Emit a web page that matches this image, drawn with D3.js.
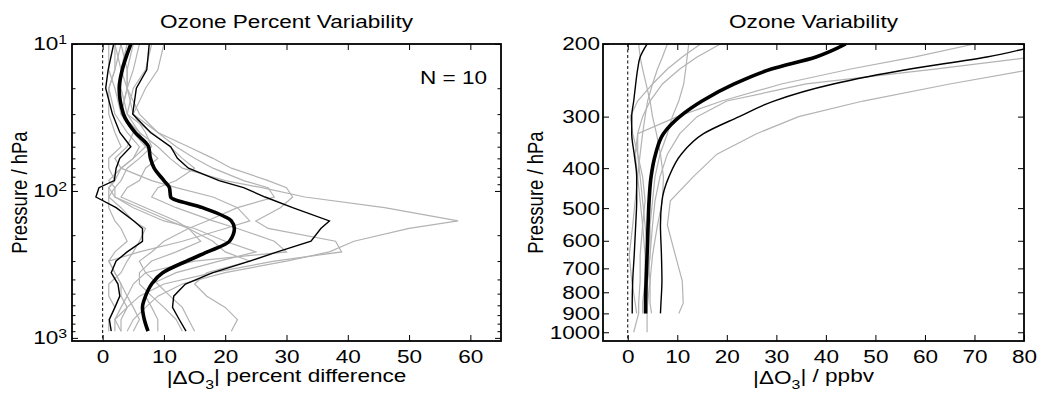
<!DOCTYPE html>
<html>
<head>
<meta charset="utf-8">
<script src="https://cdn.jsdelivr.net/npm/d3@7"></script>
<style>
  body { margin: 0; background: #fff; }
  svg text { font-family: "Liberation Sans", Arial, sans-serif; fill: #000; }
</style>
</head>
<body>
<svg id="chart" width="1037" height="398"></svg>
<script>
// ---- left panel: percent variability (pressure levels in hPa) ----
const levelsPct = [10, 15, 20, 30, 40, 50, 60, 70, 85, 95, 110, 130, 160, 180, 220, 260, 300, 360, 430, 520, 620, 750, 900];
const meanPct = [4.6, 3.2, 2.7, 3.4, 5.3, 7.5, 7.8, 8.4, 10.0, 10.9, 11.1, 16.3, 21.0, 21.5, 20.7, 17.1, 13.7, 9.8, 8.0, 7.0, 6.5, 6.8, 7.4];
const lowPct = [1.8, 0.9, 0.5, 1.6, 2.8, 4.6, 2.8, 2.2, 1.9, -0.6, -1.1, 2.2, 5.1, 6.5, 6.5, 4.0, 2.2, 1.4, 2.5, 2.8, 2.0, 1.1, 1.4];
const highPct = [7.6, 7.2, 5.5, 4.9, 7.8, 11.1, 12.2, 14.0, 19.0, 23.0, 26.5, 31.0, 37.0, 35.6, 34.0, 28.5, 24.0, 18.0, 13.5, 11.6, 11.4, 12.5, 13.6];
const profilesPct = [
  [6, 5, 4, 3, 6, 9, 11, 13, 20, 26, 33, 46, 58, 50, 41, 37, 30, 20, 13, 9, 7, 5, 4],
  [2, 3, 4, 6, 9, 14, 18, 21, 27, 30, 31, 29, 25, 27, 38, 39, 28, 18, 10, 6, 4, 3, 3],
  [3, 2, 1, 2, 4, 6, 5, 3, 2, 1, 2, 6, 11, 14, 18, 20, 24, 17, 15, 17, 20, 22, 21],
  [1, 1, 2, 3, 5, 4, 2, 3, 8, 12, 18, 22, 24, 20, 13, 6, 1, 2, 3, 4, 3, 2, 3],
  [4, 3, 3, 4, 8, 11, 13, 15, 12, 9, 8, 12, 18, 22, 28, 30, 15, 7, 5, 4, 5, 6, 5],
  [2, 2, 1, 1, 2, 3, 1, 1, 2, 1, 1, 3, 5, 7, 6, 5, 4, 3, 1, 1, 2, 1, 1],
  [8, 7, 5, 4, 6, 7, 9, 7, 6, 4, 3, 7, 12, 14, 16, 12, 8, 6, 6, 8, 10, 12, 13],
  [5, 4, 4, 5, 9, 12, 15, 18, 23, 27, 28, 22, 17, 14, 10, 8, 6, 7, 9, 11, 13, 14, 15],
  [3, 4, 4, 3, 5, 7, 5, 3, 1, 2, 1, 1, 2, 3, 4, 2, 1, 2, 3, 3, 4, 2, 2],
  [10, 9, 7, 5, 7, 8, 6, 4, 3, 2, 2, 5, 10, 15, 20, 25, 19, 12, 8, 7, 8, 9, 9]
];
const xTicksPct = [0, 10, 20, 30, 40, 50, 60];
const yTicksPct = [10, 100, 1000];

// ---- right panel: absolute variability in ppbv ----
const levelsAbs = [200, 215, 230, 250, 275, 300, 330, 370, 420, 480, 550, 650, 750, 850, 900, 1000];
const meanAbs = [44, 38, 29, 21.5, 15, 10.5, 7.2, 5.6, 4.7, 4.3, 4.1, 3.9, 3.7, 3.6, 3.6, null];
const lowAbs = [3.9, 2.5, 2.0, 1.6, 1.2, 0.8, 0.8, 1.3, 1.8, 1.8, 1.6, 1.3, 1.0, 0.9, 0.9, null];
const highAbs = [84, 72.5, 57, 41.5, 29.5, 22.5, 15.3, 10.8, 8.3, 6.9, 6.6, 6.8, 6.9, 6.7, 6.6, null];
const profilesAbs = [
  [70, 58, 45, 31, 19, 10, 2, 1.5, 2, 2.5, 3, 3.5, 3.5, 3, 3, null],
  [95, 82, 62, 36, 20, 14, 10.5, 8, 6.5, 5.5, 5, 4.5, 4, 3.5, 3.5, null],
  [120, 100, 82, 65, 47.5, 34.5, 26, 18, 13.2, 8.6, 8, 9.6, 11, 11.2, 10.3, null],
  [18.7, 14, 10.5, 7, 4.5, 3, 2, 2, 2.5, 3, 3.5, 4, 4.5, 4.5, 4.8, null],
  [14.7, 11, 8, 5, 2, 0.5, 1, 2, 3, 3.5, 3, 2.5, 2.5, 2.2, 2.2, 1.2],
  [12.3, 12, 11.7, 11.3, 10.3, 9, 8, 6.5, 5.5, 5, 4.5, 4.5, 4, 4, 3.9, 3.9],
  [2.2, 2.5, 3, 3.7, 4.5, 5, 5.8, 6.6, 7.2, 7, 6, 5, 4.5, 4, 3.8, null],
  [8, 7, 6, 5, 4, 3.5, 3, 2.5, 2, 1.5, 1, 0.3, 0.8, 1.5, 1.8, null]
];
const xTicksAbs = [0, 10, 20, 30, 40, 50, 60, 70, 80];
const yTicksAbs = [200, 300, 400, 500, 600, 700, 800, 900, 1000];

// the reference lettering is a bit wider than Liberation Sans, so stretch it
const FONT = 18.5, STRETCH = 1.22;

const svg = d3.select("#chart");

function label(parent, x, y, txt, anchor, rotate) {
  return parent.append("text")
    .attr("transform", "translate(" + x + "," + y + ") scale(" + STRETCH + ",1)" + (rotate ? " rotate(-90)" : ""))
    .attr("text-anchor", anchor).attr("font-size", FONT)
    .text(txt);
}

function drawPanel(cfg) {
  const g = svg.append("g");
  const x = d3.scaleLinear().domain(cfg.xDomain).range([cfg.left, cfg.right]);
  const y = d3.scaleLog().domain(cfg.yDomain).range([cfg.top, cfg.bottom]);

  const clipId = "clip-" + cfg.id;
  svg.append("clipPath").attr("id", clipId)
    .append("rect")
    .attr("x", cfg.left).attr("y", cfg.top)
    .attr("width", cfg.right - cfg.left).attr("height", cfg.bottom - cfg.top);

  const plot = g.append("g").attr("clip-path", "url(#" + clipId + ")");

  // zero reference line
  plot.append("line")
    .attr("x1", x(0)).attr("x2", x(0))
    .attr("y1", cfg.top).attr("y2", cfg.bottom)
    .attr("stroke", "#000").attr("stroke-width", 1)
    .attr("stroke-dasharray", "3,2.5");

  const line = d3.line()
    .defined(d => d.v != null)
    .x(d => x(d.v))
    .y(d => y(d.p));
  const smooth = d3.line()
    .defined(d => d.v != null)
    .curve(d3.curveMonotoneY)
    .x(d => x(d.v))
    .y(d => y(d.p));
  const toPts = vals => vals.map((v, i) => ({ p: cfg.levels[i], v: v }));

  cfg.profiles.forEach(vals => {
    plot.append("path").datum(toPts(vals))
      .attr("fill", "none").attr("stroke", "#b3b3b3").attr("stroke-width", 1.2)
      .attr("d", line);
  });
  [cfg.low, cfg.high].forEach(vals => {
    plot.append("path").datum(toPts(vals))
      .attr("fill", "none").attr("stroke", "#000").attr("stroke-width", 1.4)
      .attr("d", cfg.smoothBounds ? smooth : line);
  });
  plot.append("path").datum(toPts(cfg.mean))
    .attr("fill", "none").attr("stroke", "#000").attr("stroke-width", 3.6)
    .attr("stroke-linejoin", "round")
    .attr("d", smooth);

  // axes with inward ticks on all four sides
  g.append("g")
    .attr("transform", "translate(0," + cfg.bottom + ")")
    .call(d3.axisBottom(x).tickValues(cfg.xTicks).tickSizeInner(-6).tickSizeOuter(0).tickPadding(9));
  g.append("g")
    .attr("transform", "translate(0," + cfg.top + ")")
    .call(d3.axisTop(x).tickValues(cfg.xTicks).tickSizeInner(-6).tickSizeOuter(0).tickFormat(""));

  const leftAxis = g.append("g")
    .attr("transform", "translate(" + cfg.left + ",0)")
    .call(d3.axisLeft(y).tickValues(cfg.yTicks).tickFormat(d3.format("d"))
      .tickSizeInner(-6).tickSizeOuter(0).tickPadding(cfg.yPad));
  g.append("g")
    .attr("transform", "translate(" + cfg.right + ",0)")
    .call(d3.axisRight(y).tickValues(cfg.yTicks).tickSizeInner(-6).tickSizeOuter(0).tickFormat(""));

  if (cfg.minorTicks) {
    g.append("g").attr("transform", "translate(" + cfg.left + ",0)")
      .call(d3.axisLeft(y).tickValues(cfg.minorTicks).tickSizeInner(-3.5).tickSizeOuter(0).tickFormat(""));
    g.append("g").attr("transform", "translate(" + cfg.right + ",0)")
      .call(d3.axisRight(y).tickValues(cfg.minorTicks).tickSizeInner(-3.5).tickSizeOuter(0).tickFormat(""));
  }

  g.selectAll(".domain").remove();
  g.selectAll(".tick line").attr("stroke", "#000").attr("stroke-width", 1);
  g.selectAll(".tick text")
    .attr("font-size", FONT)
    .attr("font-family", "Liberation Sans, Arial, sans-serif")
    .attr("transform", "scale(" + STRETCH + ",1)");

  if (cfg.powerLabels) {
    leftAxis.selectAll(".tick text").each(function (d) {
      const t = d3.select(this).text(null);
      t.append("tspan").text("10");
      t.append("tspan").attr("dy", "-0.5em").attr("font-size", 13).text(Math.round(Math.log10(d)));
    });
  }

  // frame
  g.append("rect")
    .attr("x", cfg.left).attr("y", cfg.top)
    .attr("width", cfg.right - cfg.left).attr("height", cfg.bottom - cfg.top)
    .attr("fill", "none").attr("stroke", "#000").attr("stroke-width", 1.8);

  label(g, (cfg.left + cfg.right) / 2, 28, cfg.title, "middle");
  label(g, cfg.yLabelX, (cfg.top + cfg.bottom) / 2, "Pressure / hPa", "middle", true);

  // x label with subscript
  const xl = label(g, (cfg.left + cfg.right) / 2, 384, null, "middle");
  xl.append("tspan").text("|\u0394O");
  xl.append("tspan").attr("dy", "0.4em").attr("font-size", 13).text("3");
  xl.append("tspan").attr("dy", "-0.4em").text("| " + cfg.xUnit);

  return g;
}

const left = drawPanel({
  id: "pct", left: 72, right: 501, top: 44, bottom: 341,
  xDomain: [-5, 65], yDomain: [10, 1050],
  levels: levelsPct, mean: meanPct, low: lowPct, high: highPct, profiles: profilesPct,
  xTicks: xTicksPct, yTicks: yTicksPct,
  minorTicks: [20, 30, 40, 50, 60, 70, 80, 90, 200, 300, 400, 500, 600, 700, 800, 900],
  powerLabels: true, yPad: 4, yLabelX: 27, smoothBounds: false,
  title: "Ozone Percent Variability", xUnit: "percent difference"
});
label(left, 487, 84, "N = 10", "end");

drawPanel({
  id: "abs", left: 603, right: 1024, top: 44, bottom: 341,
  xDomain: [-5, 80], yDomain: [200, 1050],
  levels: levelsAbs, mean: meanAbs, low: lowAbs, high: highAbs, profiles: profilesAbs,
  xTicks: xTicksAbs, yTicks: yTicksAbs,
  minorTicks: null, powerLabels: false, yPad: 2.5, yLabelX: 543, smoothBounds: true,
  title: "Ozone Variability", xUnit: "/ ppbv"
});
</script>
</body>
</html>
